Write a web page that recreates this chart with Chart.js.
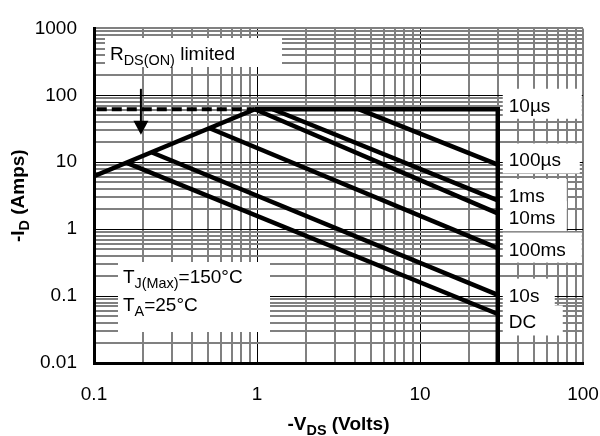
<!DOCTYPE html>
<html>
<head>
<meta charset="utf-8">
<script src="https://cdn.jsdelivr.net/npm/chart.js@4.4.1/dist/chart.umd.min.js"></script>
<style>
  html, body { margin: 0; padding: 0; background: #fff; }
  #wrap { width: 600px; height: 436px; }
</style>
</head>
<body>
<div id="wrap"><canvas id="soa" width="600" height="436"></canvas></div>
<script>
// tick labels (decades)
const xTickLabels = [0.1, 1, 10, 100];
const yTickLabels = [0.01, 0.1, 1, 10, 100, 1000];

// RDS(ON) limit line and its dashed extension
const rdsLineV = [0.1, 0.97];
const rdsLineA = [6.2, 62];
const rdsDashV = [0.104, 0.97];
const rdsDashA = [62, 62];

// pulse width curves: start on the limit line, end at the 30 V wall
const pulseNames = ["10µs", "100µs", "1ms", "10ms", "100ms", "10s", "DC"];
const pulseStartV = [0.97, 4.2, 1.25, 0.97, 0.508, 0.227, 0.159];
const pulseStartA = [62, 62, 62, 62, 32.5, 14.0, 9.8];
const pulseEndV = [30, 30, 30, 30, 30, 30, 30];
const pulseEndA = [62, 9.2, 2.7, 1.72, 0.52, 0.104, 0.054];

// the 30 V wall
const wallV = [30, 30];
const wallA = [62, 0.01];

// arrow pointing down at the limit line
const arrowV = [0.194, 0.194];
const arrowA = [125, 25.7];

// where the pulse labels sit (amps at the text baseline) and how wide their boxes are
const pulseLabelA = [56.8, 8.65, 2.55, 1.19, 0.403, 0.0826, 0.0328];
const pulseBoxW = [79, 77, 64, 64, 79, 52, 60];

const FONT = "'Liberation Sans', Arial, Helvetica, sans-serif";
const GRAY = "#808080";

// free text notes, in canvas pixels
const notes = [
  { parts: [["R"], ["DS(ON)", 1], [" limited"]], x: 110, y: 60, box: [105, 38, 282, 67] },
  { parts: [["T"], ["J(Max)", 1], ["=150°C"]], x: 123, y: 283, box: [118, 262, 270, 332] },
  { parts: [["T"], ["A", 1], ["=25°C"]], x: 123, y: 311 }
];

function decadeGrid(labels) {
  const out = [];
  for (let i = 0; i < labels.length - 1; i++) {
    for (let k = 1; k < 10; k++) out.push(labels[i] * k);
  }
  out.push(labels[labels.length - 1]);
  return out;
}
const xGrid = decadeGrid(xTickLabels);
const yGrid = decadeGrid(yTickLabels);

function isDecade(v) {
  const l = Math.log10(v);
  return Math.abs(l - Math.round(l)) < 1e-6;
}

function gridColor(v, edge) {
  if (Math.abs(v - edge) < 1e-9) return GRAY;
  return isDecade(v) ? "#000" : GRAY;
}
function gridWidth(v, edge) {
  if (Math.abs(v - edge) < 1e-9) return 2;
  return isDecade(v) ? 1 : 2;
}

function seg(xs, ys) {
  return xs.map((x, i) => ({ x, y: ys[i] }));
}

function line(xs, ys, extra) {
  return Object.assign({
    data: seg(xs, ys),
    showLine: true,
    borderColor: "#000",
    borderWidth: 4.5,
    pointRadius: 0,
    fill: false
  }, extra || {});
}

const datasets = [];
datasets.push(line(rdsLineV, rdsLineA));
datasets.push(line(rdsDashV, rdsDashA, { borderDash: [10, 5], borderWidth: 4 }));
pulseNames.forEach((name, i) => {
  datasets.push(line([pulseStartV[i], pulseEndV[i]], [pulseStartA[i], pulseEndA[i]], { label: name }));
});
datasets.push(line(wallV, wallA, { borderCapStyle: "square", clip: 0 }));

// text with subscripts: parts are [text, isSub]
function richText(ctx, parts, x, y, size, bold, align) {
  const w = bold ? "bold " : "";
  const subSize = (size * 0.76).toFixed(1);
  let total = 0;
  parts.forEach(p => {
    ctx.font = w + (p[1] ? subSize : size) + "px " + FONT;
    total += ctx.measureText(p[0]).width;
  });
  let cx = align === "center" ? x - total / 2 : x;
  ctx.textAlign = "left";
  ctx.textBaseline = "alphabetic";
  parts.forEach(p => {
    ctx.font = w + (p[1] ? subSize : size) + "px " + FONT;
    ctx.fillText(p[0], cx, p[1] ? y + 5 : y);
    cx += ctx.measureText(p[0]).width;
  });
}

const overlay = {
  id: "overlay",
  beforeDatasetsDraw(chart) {
    const { ctx, scales } = chart;
    ctx.save();
    ctx.fillStyle = "#fff";
    notes.forEach(n => {
      if (n.box) ctx.fillRect(n.box[0], n.box[1], n.box[2] - n.box[0], n.box[3] - n.box[1]);
    });
    const bx = scales.x.getPixelForValue(pulseEndV[0]) + 5;
    pulseLabelA.forEach((a, i) => {
      const by = scales.y.getPixelForValue(a);
      ctx.fillRect(bx, by - 23, pulseBoxW[i], 30);
    });
    ctx.restore();
  },
  afterDatasetsDraw(chart) {
    const { ctx, scales } = chart;
    ctx.save();
    ctx.fillStyle = "#000";
    notes.forEach(n => richText(ctx, n.parts, n.x, n.y, 19, false, "left"));
    const tx = scales.x.getPixelForValue(pulseEndV[0]) + 11;
    ctx.font = "19px " + FONT;
    ctx.textBaseline = "alphabetic";
    pulseNames.forEach((name, i) => {
      ctx.fillText(name, tx, scales.y.getPixelForValue(pulseLabelA[i]));
    });

    // arrow
    const ax = scales.x.getPixelForValue(arrowV[0]);
    const ay0 = scales.y.getPixelForValue(arrowA[0]);
    const ay1 = scales.y.getPixelForValue(arrowA[1]);
    ctx.strokeStyle = "#000";
    ctx.lineWidth = 2;
    ctx.beginPath();
    ctx.moveTo(ax, ay0);
    ctx.lineTo(ax, ay1 - 12);
    ctx.stroke();
    ctx.beginPath();
    ctx.moveTo(ax - 7.5, ay1 - 14);
    ctx.lineTo(ax + 7.5, ay1 - 14);
    ctx.lineTo(ax, ay1);
    ctx.closePath();
    ctx.fill();
    ctx.restore();
  },
  afterDraw(chart) {
    const { ctx, chartArea } = chart;
    ctx.save();
    ctx.fillStyle = "#000";
    richText(ctx, [["-V"], ["DS", 1], [" (Volts)"]], (chartArea.left + chartArea.right) / 2, 430, 19, true, "center");
    ctx.translate(24, (chartArea.top + chartArea.bottom) / 2);
    ctx.rotate(-Math.PI / 2);
    richText(ctx, [["-I"], ["D", 1], [" (Amps)"]], 0, 0, 19, true, "center");
    ctx.restore();
  }
};

const tickFont = { family: FONT, size: 19 };

new Chart(document.getElementById("soa"), {
  type: "scatter",
  data: { datasets },
  options: {
    responsive: false,
    animation: false,
    events: [],
    layout: { padding: { left: 0, top: 14, right: 0, bottom: 0 } },
    plugins: {
      legend: { display: false },
      tooltip: { enabled: false }
    },
    scales: {
      x: {
        type: "logarithmic",
        min: 0.1,
        max: 100,
        afterBuildTicks: s => { s.ticks = xGrid.map(v => ({ value: v })); },
        afterFit: s => {
          s.height = 73;
          // tick padding is meant vertically only, keep the plot 17px from the right edge
          s.paddingRight = 17;
          s.paddingLeft = 0;
        },
        ticks: {
          autoSkip: false,
          maxRotation: 0,
          padding: 20,
          color: "#000",
          font: tickFont,
          callback: v => (xTickLabels.find(t => Math.abs(t - v) < 1e-9) !== undefined ? String(v) : "")
        },
        grid: {
          drawTicks: false,
          color: c => gridColor(c.tick.value, 100),
          lineWidth: c => gridWidth(c.tick.value, 100)
        },
        border: { display: true, color: "#000", width: 3 }
      },
      y: {
        type: "logarithmic",
        min: 0.01,
        max: 1000,
        afterBuildTicks: s => { s.ticks = yGrid.map(v => ({ value: v })); },
        afterFit: s => { s.width = 94; },
        ticks: {
          autoSkip: false,
          padding: 17,
          color: "#000",
          font: tickFont,
          callback: v => (yTickLabels.find(t => Math.abs(t - v) < 1e-9) !== undefined ? String(v) : "")
        },
        grid: {
          drawTicks: false,
          color: c => gridColor(c.tick.value, 1000),
          lineWidth: c => gridWidth(c.tick.value, 1000)
        },
        border: { display: true, color: "#000", width: 3 }
      }
    }
  },
  plugins: [overlay]
});
</script>
</body>
</html>
